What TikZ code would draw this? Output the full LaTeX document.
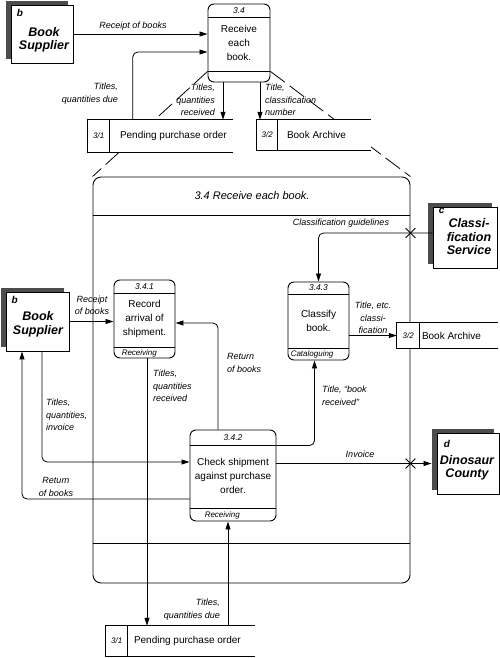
\documentclass[tikz,border=0pt]{standalone}
\usepackage{fontspec}
\setmainfont{Liberation Sans}
\usetikzlibrary{arrows.meta,shadows,shapes.misc}

\newcommand\dfdstore[9]{%
  \node[storebg, minimum width=#4pt, minimum height=#5pt] (#1) at (#2,#3) {};
  \draw[boxline] (#1.north east) -- (#1.north west) -- (#1.south west) -- (#1.south east);
  \draw[boxline] ([xshift=#6pt]#1.north west) -- ([xshift=#6pt]#1.south west);
  \node[storeid] (#1id) at ([xshift=#6pt/2]#1.west) {#7};
  \node[storetext] (#1txt) at ([xshift=#6pt+#9pt]#1.west) {#8};
}
\newcommand\procparts[6]{%
  \draw[boxline] ([yshift=-#2pt]#1.north west) -- ([yshift=-#2pt]#1.north east);
  \draw[boxline] ([yshift=#3pt]#1.south west) -- ([yshift=#3pt]#1.south east);
  \node[procid] (#1id) at ([yshift=-#2pt/2]#1.north) {#4};
  \node[procrole] (#1role) at ([xshift=#6pt, yshift=#3pt/2]#1.south west) {#5};
}

\begin{document}
\begin{tikzpicture}[x=1pt,y=-1pt,
 boxline/.style={line width=0.9pt},
 flow/.style={line width=0.8pt, -{Triangle[length=8pt,width=5pt]}, rounded corners=5pt},
 proc/.style={draw, line width=0.9pt, rounded corners=6pt, fill=white, align=center, font=\fontsize{10}{14}\selectfont, inner sep=0pt},
 procid/.style={font=\fontsize{8.5}{10}\selectfont\itshape, inner sep=0pt},
 procrole/.style={font=\fontsize{8}{10}\selectfont\itshape, inner sep=0pt, anchor=west},
 ent/.style={draw, line width=0.9pt, fill=white, inner sep=0pt, general shadow={fill=black!70, shadow xshift=-5pt, shadow yshift=4pt}},
 entname/.style={font=\fontsize{12.5}{13.5}\selectfont\bfseries\itshape, align=center, inner sep=0pt},
 entid/.style={font=\fontsize{10}{12}\selectfont\bfseries\itshape, inner sep=0pt, anchor=north west},
 lbl/.style={font=\fontsize{9}{12.5}\selectfont\itshape, inner sep=0pt},
 storebg/.style={fill=white, draw=none, inner sep=0pt, rectangle},
 storeid/.style={font=\fontsize{8}{10}\selectfont\itshape, inner sep=0pt},
 storetext/.style={font=\fontsize{10}{12}\selectfont, inner sep=0pt, anchor=west},
 xmark/.style={draw, cross out, line width=0.8pt, minimum size=9pt, inner sep=0pt},
 expand/.style={line width=0.8pt, dash pattern=on 18pt off 6pt}
]
\useasboundingbox (0,0) rectangle (500,658);

% expanded process frame
\node[draw, line width=0.9pt, rounded corners=8pt, minimum width=317pt, minimum height=406pt, inner sep=0pt] (big) at (251.5,380) {};
\draw[boxline] ([yshift=-39pt]big.north west) -- ([yshift=-39pt]big.north east);
\draw[boxline] ([yshift=40pt]big.south west) -- ([yshift=40pt]big.south east);
\node[font=\fontsize{11}{13}\selectfont\itshape] (bigtitle) at (252,196) {3.4 Receive each book.};

% top process
\node[proc, minimum width=62pt, minimum height=78pt] (p34) at (239,43) {Receive\\each\\book.};
\procparts{p34}{14}{11}{3.4}{}{0}

% expansion lines
\draw[expand] ([yshift=11pt]p34.south west) -- (big.north west);
\draw[expand] ([yshift=11pt]p34.south east) -- (big.north east);

% stores
\dfdstore{s31a}{160.5}{136}{145}{32}{22}{3/1}{Pending purchase order}{10}
\dfdstore{s32a}{314}{135}{114}{30}{21}{3/2}{Book Archive}{9}
\dfdstore{s32b}{447.5}{335.5}{101}{25}{23}{3/2}{Book Archive}{2}
\dfdstore{s31b}{180.5}{641}{149}{30}{22}{3/1}{Pending purchase order}{6}

% inner processes
\node[proc, minimum width=61pt, minimum height=78pt] (p341) at (144.5,319) {Record\\arrival of\\shipment.};
\procparts{p341}{14}{11}{3.4.1}{Receiving}{8}
\node[proc, minimum width=61pt, minimum height=78pt] (p343) at (318.5,321) {Classify\\book.};
\procparts{p343}{13}{12}{3.4.3}{Cataloguing}{3}
\node[proc, minimum width=86pt, minimum height=91pt] (p342) at (233,475.5) {Check shipment\\against purchase\\order.};
\procparts{p342}{16}{13}{3.4.2}{Receiving}{15}

% external entities
\node[ent, minimum width=62pt, minimum height=58pt] (bs1) at (42,34) {};
\node[entname] (bs1name) at (44,40) {Book\\Supplier};
\node[entid] (bs1id) at ([xshift=6pt,yshift=-5pt]bs1.north west) {b};

\node[ent, minimum width=63pt, minimum height=59pt] (bs2) at (37.5,321.5) {};
\node[entname] (bs2name) at (38,324.5) {Book\\Supplier};
\node[entid] (bs2id) at ([xshift=6pt,yshift=-5pt]bs2.north west) {b};

\node[ent, minimum width=64pt, minimum height=61pt] (cs) at (465,237.5) {};
\node[entname] (csname) at (469,237) {Classi-\\fication\\Service};
\node[entid] (csid) at ([xshift=6pt,yshift=-1pt]cs.north west) {c};

\node[ent, minimum width=62pt, minimum height=61pt] (dc) at (468,463.5) {};
\node[entname] (dcname) at (467,468) {Dinosaur\\County};
\node[entid] (dcid) at ([xshift=7pt,yshift=-7pt]dc.north west) {d};

% top flows
\draw[flow] (bs1.east) -- (bs1.east -| p34.west);
\node[lbl] (l1) at (133,26) {Receipt of books};
\coordinate (a0) at ([xshift=45pt]s31a.north west);
\coordinate (a0e) at ([yshift=-9pt]p34.west);
\draw[flow] (a0) |- (a0e);
\node[lbl, align=right, anchor=east] (l2) at (118,93.5) {Titles,\\quantities due};
\coordinate (a1) at ([xshift=-16pt]p34.south);
\draw[flow] (a1) -- (a1 |- s31a.north);
\coordinate (a2) at ([xshift=21pt]p34.south);
\draw[flow] (a2) -- (a2 |- s32a.north);
\node[lbl, align=right, anchor=east] (l3) at (215,100) {Titles,\\quantities\\received};
\node[lbl, align=left, anchor=west] (l4) at (265,100) {Title,\\classification\\number};

% classification
\coordinate (c1) at ([yshift=4.5pt]cs.west);
\draw[flow] (c1) -| (p343.north);
\node[xmark] (x1) at (c1 -| big.east) {};
\node[lbl] (l5) at (341,223) {Classification guidelines};
\draw[flow] (s32b.west -| p343.east) -- (s32b.west);
\node[lbl, align=center] (l6) at (373,318) {Title, etc.\\classi-\\fication};

% receipt
\draw[flow] (bs2.east) -- (bs2.east -| p341.west);
\node[lbl, align=center] (l7) at (92,305.5) {Receipt\\of books};

% return of books to 3.4.1
\coordinate (c2) at ([xshift=-15pt]p342.north);
\coordinate (c2e) at ([yshift=-4pt]p341.east);
\draw[flow] (c2) |- (c2e);
\node[lbl, align=left, anchor=west] (l8) at (227,363) {Return\\of books};

% 3.4.1 to store
\coordinate (c3) at ([xshift=2.5pt]p341.south);
\draw[flow] (c3) -- (c3 |- s31b.north);
\node[lbl, align=left, anchor=west] (l9) at (153,386) {Titles,\\quantities\\received};

% 3.4.2 to 3.4.3
\coordinate (c4) at ([yshift=-16pt]p342.north east);
\coordinate (c5) at ([xshift=-4pt]p343.south);
\draw[flow] (c4) -| (c5);
\node[lbl, align=left, anchor=west] (l10) at (322,396) {Title, “book\\received”};

% invoice
\coordinate (c10) at ([xshift=-5pt]dc.west);
\draw[flow] (p342.east |- dc.west) -- (c10);
\node[xmark] (x2) at (dc.west -| big.east) {};
\node[lbl] (l11) at (360,454) {Invoice};

% supplier to 3.4.2
\coordinate (c6) at ([xshift=4.5pt]bs2.south);
\coordinate (c6e) at ([yshift=13.5pt]p342.west);
\draw[flow] (c6) |- (c6e);
\node[lbl, align=left, anchor=west] (l12) at (46,415) {Titles,\\quantities,\\invoice};

% return to supplier
\coordinate (c7) at ([yshift=-23.5pt]p342.west);
\coordinate (c8) at ([xshift=-15.5pt]bs2.south);
\draw[flow] (c7) -| (c8);
\node[lbl, align=center] (l13) at (56,487) {Return\\of books};

% store to 3.4.2
\coordinate (c9) at ([xshift=47.5pt]s31b.north);
\draw[flow] (c9) -- (c9 |- p342.south);
\node[lbl, align=right, anchor=east] (l14) at (220,609.5) {Titles,\\quantities due};
\end{tikzpicture}
\end{document}
